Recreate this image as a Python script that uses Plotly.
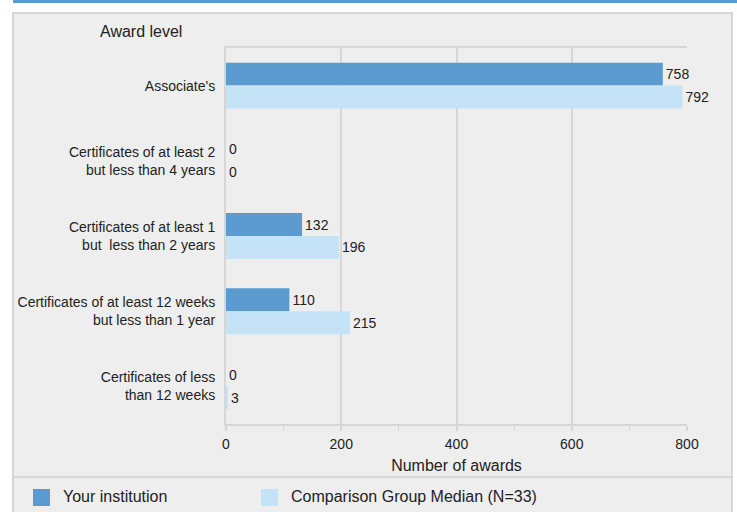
import plotly.graph_objects as go

categories = [
    "Associate's",
    "Certificates of at least 2<br>but less than 4 years",
    "Certificates of at least 1<br>but  less than 2 years",
    "Certificates of at least 12 weeks<br>but less than 1 year",
    "Certificates of less<br>than 12 weeks",
]
your_institution = [758, 0, 132, 110, 0]
comparison_median = [792, 0, 196, 215, 3]
series_names = ["Your institution", "Comparison Group Median (N=33)"]
x_ticks = [0, 200, 400, 600, 800]

DARK = "#5b9bd0"
LIGHT = "#c5e3f6"
PANEL = "#eeeeee"
BORDER = "#d6d6d6"
TXT = "#222222"
FONT = "Liberation Sans, Arial, sans-serif"

W, H = 737, 512
L, R, T, B = 226, 50, 48, 88
PW = W - L - R
PH = H - T - B


def xp(px):
    return (px - L) / PW


def yp(py):
    return (H - B - py) / PH


fig = go.Figure()
for name, vals, col in [(series_names[0], your_institution, DARK),
                        (series_names[1], comparison_median, LIGHT)]:
    fig.add_trace(go.Bar(
        y=categories, x=vals, name=name, orientation="h",
        marker=dict(color=col, line=dict(width=0)),
        text=[str(v) for v in vals], textposition="outside",
        textfont=dict(size=14, color=TXT, family=FONT),
        cliponaxis=False, showlegend=False,
    ))

shapes = [
    # outer panel
    dict(type="rect", xref="paper", yref="paper", x0=xp(13), x1=xp(732), y0=yp(13), y1=yp(515),
         fillcolor=PANEL, line=dict(color=BORDER, width=2), layer="below"),
    # top blue band
    dict(type="rect", xref="paper", yref="paper", x0=xp(13), x1=xp(737), y0=yp(0), y1=yp(3),
         fillcolor="#5b9bd0", line=dict(width=0), layer="below"),
    # legend separator
    dict(type="line", xref="paper", yref="paper", x0=xp(13), x1=xp(732), y0=yp(477), y1=yp(477),
         line=dict(color=BORDER, width=2), layer="below"),
    # legend swatches
    dict(type="rect", xref="paper", yref="paper", x0=xp(33), x1=xp(50), y0=yp(489), y1=yp(506),
         fillcolor=DARK, line=dict(width=0)),
    dict(type="rect", xref="paper", yref="paper", x0=xp(261), x1=xp(278), y0=yp(489), y1=yp(506),
         fillcolor=LIGHT, line=dict(width=0)),
]

annotations = [
    dict(text="Award level", xref="paper", yref="paper", x=xp(98), y=yp(32),
         xanchor="left", yanchor="middle", showarrow=False, font=dict(size=16, color=TXT, family=FONT)),
    dict(text=series_names[0], xref="paper", yref="paper", x=xp(61), y=yp(497),
         xanchor="left", yanchor="middle", showarrow=False, font=dict(size=16, color=TXT, family=FONT)),
    dict(text=series_names[1], xref="paper", yref="paper", x=xp(289), y=yp(497),
         xanchor="left", yanchor="middle", showarrow=False, font=dict(size=16, color=TXT, family=FONT)),
]

fig.update_layout(
    width=W, height=H, autosize=False,
    margin=dict(l=L, r=R, t=T, b=B),
    paper_bgcolor="white", plot_bgcolor=PANEL,
    barmode="group", bargap=0.39, bargroupgap=0,
    shapes=shapes, annotations=annotations,
    font=dict(family=FONT, size=14, color=TXT),
    xaxis=dict(
        range=[0, 800], tickvals=x_ticks, ticktext=[str(v) for v in x_ticks],
        showgrid=True, gridcolor=BORDER, gridwidth=2, zeroline=False,
        showline=True, linecolor=BORDER, linewidth=2, mirror=True,
        ticks="outside", ticklen=5, tickcolor=BORDER, tickwidth=2,
        minor=dict(dtick=100, tick0=0, ticks="outside", ticklen=5, tickcolor=BORDER, tickwidth=1, showgrid=False),
        tickfont=dict(size=14, color=TXT, family=FONT),
        ticklabelstandoff=1,
        title=dict(text="Number of awards", font=dict(size=16, color=TXT, family=FONT), standoff=9),
        fixedrange=True,
    ),
    yaxis=dict(
        categoryorder="array", categoryarray=categories, autorange="reversed",
        showgrid=False, zeroline=False, showline=True, linecolor=BORDER, linewidth=2,
        ticks="", ticklabelstandoff=6,
        tickfont=dict(size=14, color=TXT, family=FONT),
        fixedrange=True,
    ),
)

fig.write_html(
    "out.html",
    config={"displayModeBar": False},
    post_script="document.body.style.margin='0';document.body.style.padding='0';",
)
